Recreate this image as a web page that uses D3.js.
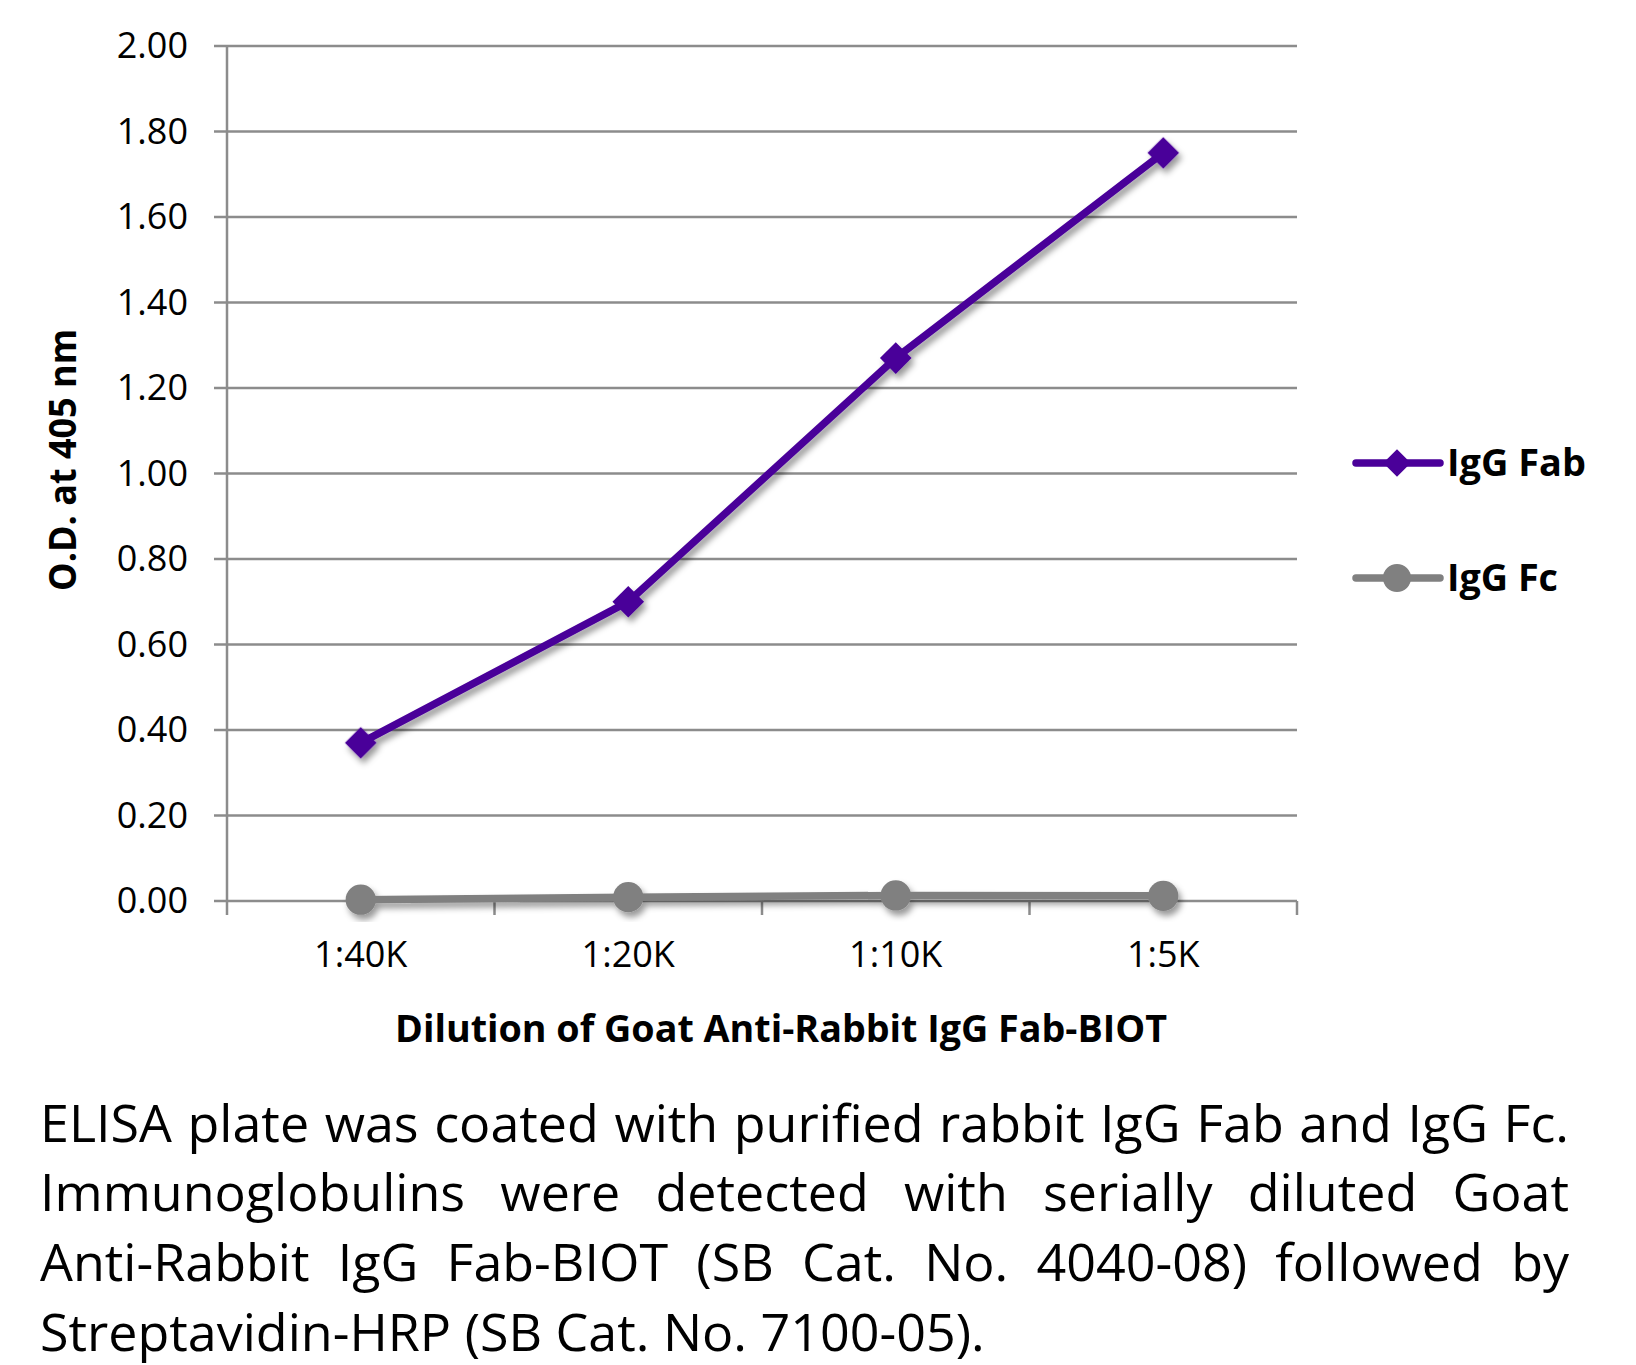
<!DOCTYPE html>
<html>
<head>
<meta charset="utf-8">
<script src="https://cdn.jsdelivr.net/npm/d3@7"></script>
<style>
  html, body { margin: 0; padding: 0; background: #fff; }
  svg { display: block; }
</style>
</head>
<body>
<svg id="chart" width="1636" height="1365"></svg>
<script>
// ---- data ----
const categories = ["1:40K", "1:20K", "1:10K", "1:5K"];
const fabValues = [0.37, 0.70, 1.27, 1.75];
const fcValues = [0.003, 0.009, 0.013, 0.012];
const yTicks = [0, 0.2, 0.4, 0.6, 0.8, 1.0, 1.2, 1.4, 1.6, 1.8, 2.0];
const seriesNames = ["IgG Fab", "IgG Fc"];
const yTitle = "O.D. at 405 nm";
const xTitle = "Dilution of Goat Anti-Rabbit IgG Fab-BIOT";
const captionLines = [
  "ELISA plate was coated with purified rabbit IgG Fab and IgG Fc.",
  "Immunoglobulins were detected with serially diluted Goat",
  "Anti-Rabbit IgG Fab-BIOT (SB Cat. No. 4040-08) followed by",
  "Streptavidin-HRP (SB Cat. No. 7100-05)."
];

(function () {
// ---- layout ----
const FONT = "'Open Sans', 'Noto Sans', sans-serif";
const svg = d3.select("#chart");
const pLeft = 227, pRight = 1297, pTop = 46, pBottom = 901;
const fabColor = "#4a0099", fcColor = "#808080", gridColor = "#8c8c8c";

const x = d3.scaleBand().domain(categories).range([pLeft, pRight]);
const y = d3.scaleLinear().domain([0, 2]).range([pBottom, pTop]);
const cx = c => x(c) + x.bandwidth() / 2;

const defs = svg.append("defs");
const f = defs.append("filter").attr("id", "shadow")
  .attr("x", "-20%").attr("y", "-20%").attr("width", "140%").attr("height", "140%");
f.append("feDropShadow").attr("dx", 3).attr("dy", 5).attr("stdDeviation", 3)
  .attr("flood-color", "#000").attr("flood-opacity", 0.4);

// gridlines
svg.append("g").selectAll("line").data(yTicks).join("line")
  .attr("x1", pLeft - 13).attr("x2", pRight)
  .attr("y1", d => y(d)).attr("y2", d => y(d))
  .attr("stroke", gridColor).attr("stroke-width", 2.5);

// y axis line
svg.append("line").attr("x1", pLeft).attr("x2", pLeft)
  .attr("y1", pTop).attr("y2", pBottom + 14)
  .attr("stroke", gridColor).attr("stroke-width", 2.5);

// x ticks at band boundaries
const boundaries = categories.map(c => x(c)).concat([x(categories[categories.length - 1]) + x.bandwidth()]);
svg.append("g").selectAll("line").data(boundaries.slice(1)).join("line")
  .attr("x1", d => d).attr("x2", d => d)
  .attr("y1", pBottom).attr("y2", pBottom + 14)
  .attr("stroke", gridColor).attr("stroke-width", 2.5);

// y tick labels
svg.append("g").selectAll("text").data(yTicks).join("text")
  .attr("x", 188).attr("y", d => y(d) + 12)
  .attr("text-anchor", "end")
  .attr("font-family", FONT).attr("font-size", 36).attr("fill", "#000")
  .text(d => d.toFixed(2));

// x tick labels
svg.append("g").selectAll("text").data(categories).join("text")
  .attr("x", d => cx(d)).attr("y", 967)
  .attr("text-anchor", "middle")
  .attr("font-family", FONT).attr("font-size", 36).attr("fill", "#000")
  .text(d => d);

// axis titles
svg.append("text")
  .attr("transform", "translate(76,460) rotate(-90)")
  .attr("text-anchor", "middle")
  .attr("font-family", FONT).attr("font-weight", 700).attr("font-size", 37)
  .attr("textLength", 262).attr("lengthAdjust", "spacingAndGlyphs")
  .text(yTitle);

svg.append("text")
  .attr("x", 395).attr("y", 1042)
  .attr("font-family", FONT).attr("font-weight", 700).attr("font-size", 37)
  .attr("textLength", 772).attr("lengthAdjust", "spacingAndGlyphs")
  .text(xTitle);

// series
const line = d3.line().x(d => cx(d.c)).y(d => y(d.v));
const fabData = categories.map((c, i) => ({ c, v: fabValues[i] }));
const fcData = categories.map((c, i) => ({ c, v: fcValues[i] }));

const gFc = svg.append("g").attr("filter", "url(#shadow)");
gFc.append("path").datum(fcData).attr("d", line)
  .attr("fill", "none").attr("stroke", fcColor).attr("stroke-width", 7.5)
  .attr("stroke-linejoin", "round");
gFc.selectAll("path.m").data(fcData).join("path").attr("class", "m")
  .attr("transform", d => `translate(${cx(d.c)},${y(d.v)})`)
  .attr("d", d3.symbol(d3.symbolCircle, 720)())
  .attr("fill", fcColor);

const gFab = svg.append("g").attr("filter", "url(#shadow)");
gFab.append("path").datum(fabData).attr("d", line)
  .attr("fill", "none").attr("stroke", fabColor).attr("stroke-width", 7.5)
  .attr("stroke-linejoin", "round");
gFab.selectAll("path.m").data(fabData).join("path").attr("class", "m")
  .attr("transform", d => `translate(${cx(d.c)},${y(d.v)}) rotate(45)`)
  .attr("d", d3.symbol(d3.symbolSquare, 500)())
  .attr("fill", fabColor);

// legend
const legend = [
  { name: seriesNames[0], color: fabColor, y: 463, sym: d3.symbolSquare, size: 380, rot: 45, w: 139 },
  { name: seriesNames[1], color: fcColor, y: 578, sym: d3.symbolCircle, size: 616, rot: 0, w: 111 }
];
const lg = svg.append("g").selectAll("g").data(legend).join("g");
lg.append("line").attr("x1", 1356).attr("x2", 1440)
  .attr("y1", d => d.y).attr("y2", d => d.y)
  .attr("stroke", d => d.color).attr("stroke-width", 7.5).attr("stroke-linecap", "round");
lg.append("path")
  .attr("transform", d => `translate(1397,${d.y}) rotate(${d.rot})`)
  .attr("d", d => d3.symbol(d.sym, d.size)())
  .attr("fill", d => d.color);
lg.append("text").attr("x", 1447).attr("y", d => d.y + 13)
  .attr("font-family", FONT).attr("font-weight", 700).attr("font-size", 37)
  .attr("textLength", d => d.w).attr("lengthAdjust", "spacingAndGlyphs")
  .text(d => d.name);

// caption (justified)
const capLeft = 40, capWidth = 1529, capSize = 52;
const baselines = [1142, 1211, 1281, 1351];
const cap = svg.append("g");
const probe = cap.append("text").attr("font-family", FONT).attr("font-size", capSize).text(captionLines[0]);
const w1 = probe.node().getComputedTextLength();
probe.remove();
const s = Math.min(1, capWidth / w1);
const inner = cap.append("g").attr("transform", `translate(${capLeft},0) scale(${s},1)`);
const avail = capWidth / s;
captionLines.forEach((ln, i) => {
  const words = ln.split(" ");
  if (i === captionLines.length - 1) {
    inner.append("text").attr("x", 0).attr("y", baselines[i])
      .attr("font-family", FONT).attr("font-size", capSize).text(ln);
    return;
  }
  const widths = words.map(w => {
    const t = inner.append("text").attr("font-family", FONT).attr("font-size", capSize).text(w);
    const wd = t.node().getComputedTextLength();
    t.remove();
    return wd;
  });
  const total = d3.sum(widths);
  const gap = (avail - total) / (words.length - 1);
  let xx = 0;
  words.forEach((w, j) => {
    inner.append("text").attr("x", xx).attr("y", baselines[i])
      .attr("font-family", FONT).attr("font-size", capSize).text(w);
    xx += widths[j] + gap;
  });
});
})();
</script>
</body>
</html>
